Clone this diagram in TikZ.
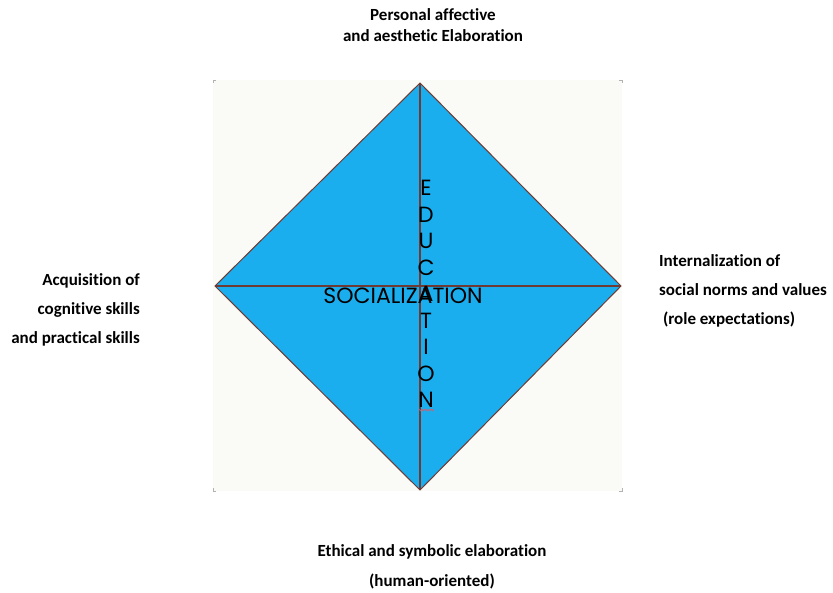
\documentclass[tikz,border=0pt]{standalone}
\usepackage{fontspec}
\setmainfont{Carlito}[Ligatures=NoCommon]
\newfontfamily\geofont{Poppins}
\usetikzlibrary{positioning,calc}

\definecolor{skyfill}{HTML}{1AAEEE}
\definecolor{edgebrown}{HTML}{6E3A33}
\definecolor{paper}{HTML}{FAFAF6}

\begin{document}
\begin{tikzpicture}[x=1pt, y=-1pt,
    lbl/.style={font=\bfseries\fontsize{17}{21}\selectfont, inner sep=0pt},
    edge/.style={draw=edgebrown, line width=1pt},
    axis/.style={draw=edgebrown, line width=1.1pt},
    word/.style={font=\geofont\fontsize{22}{22}\selectfont, inner sep=0pt, text=black},
    tick/.style={draw=black!30, line width=0.6pt}
]
\useasboundingbox (0,0) rectangle (833,592);

% backdrop square
\fill[paper] (213,80) rectangle (622,491);
\foreach \cx/\cy/\dx/\dy in {213/80/1/1, 622/80/-1/1, 213/491/1/-1, 622/491/-1/-1}
    \draw[tick] (\cx+3*\dx,\cy) -- (\cx,\cy) -- (\cx,\cy+3*\dy);

% diamond
\coordinate (top) at (420,83);
\coordinate (lft) at (215,286);
\coordinate (rgt) at (621,286);
\coordinate (bot) at (420,490);
\filldraw[fill=skyfill, edge] (top) -- (rgt) -- (bot) -- (lft) -- cycle;
\draw[axis] (top) -- (bot);
\draw[axis] (lft) -- (rgt);

% words across
\node[word] (soc) at (403,296) {SOCIALIZATION};
\foreach \ch [count=\i] in {E,D,U,C,A,T,I,O,N}
    \node[word, anchor=center] (edu\i) at (426,161.5+26.5*\i) {\ch};
\draw[red!70, line width=0.5pt] (419,409) \foreach \k in {0,...,4} { -- ++(1.5,2) -- ++(1.5,-2) };

% outer labels
\node[lbl, align=center] (upper) at (433,25.5) {Personal affective\\and aesthetic Elaboration};
\node[lbl, align=right, anchor=east] (leftlbl) at (140,310) {Acquisition of\\[8pt]cognitive skills\\[8pt]and practical skills};
\node[lbl, align=left, anchor=west] (rightlbl) at (659,291) {Internalization of\\[8pt]social norms and values\\[8pt]\ (role expectations)};
\node[lbl, align=center] (lower) at (432,567) {Ethical and symbolic elaboration\\[9pt](human-oriented)};
\end{tikzpicture}
\end{document}
